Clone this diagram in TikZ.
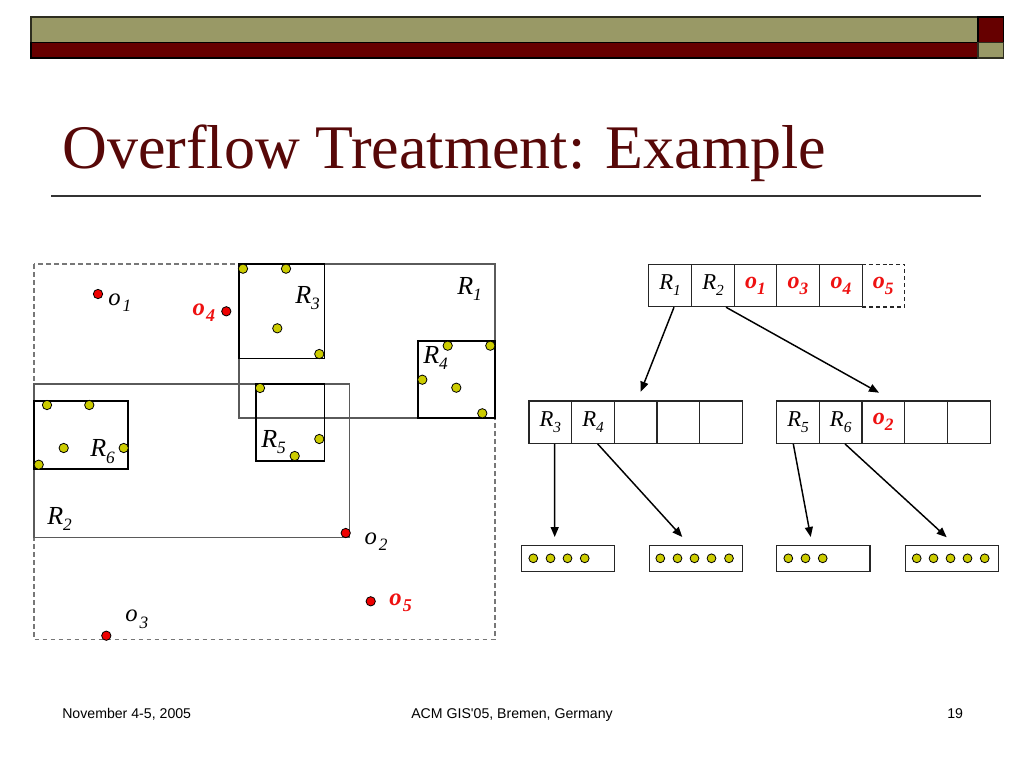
\documentclass[tikz,border=0pt]{standalone}
\usepackage{fontspec}
\setmainfont{Liberation Serif}
\newfontfamily\footfont{Liberation Sans}
\usetikzlibrary{arrows.meta,calc}
\definecolor{olivebar}{HTML}{999966}
\definecolor{darkred}{HTML}{660000}
\definecolor{titlered}{HTML}{570808}
\definecolor{ptyellow}{HTML}{CCCC00}
\definecolor{ptred}{HTML}{EE0000}
\definecolor{labred}{HTML}{EE1111}
\definecolor{mbrgray}{HTML}{5A5A5A}
\definecolor{outgray}{HTML}{777777}
% label macros
\newcommand{\Rl}[1]{\fontsize{19.5}{19.5}\selectfont\itshape R\raisebox{-5pt}{\fontsize{13}{13}\selectfont #1}}
\newcommand{\Ol}[1]{\fontsize{18.5}{18.5}\selectfont\itshape o\hspace{1.5pt}\raisebox{-5pt}{\fontsize{13}{13}\selectfont #1}}
\newcommand{\Olr}[1]{\fontsize{18.5}{18.5}\selectfont\bfseries\itshape o\hspace{1pt}\raisebox{-5pt}{\fontsize{13.5}{13.5}\selectfont #1}}
\newcommand{\Rc}[1]{\fontsize{17}{17}\selectfont\itshape R\raisebox{-4.5pt}{\fontsize{11.5}{11.5}\selectfont #1}}
\newcommand{\Oc}[1]{\fontsize{18}{18}\selectfont\bfseries\itshape o\raisebox{-4.5pt}{\fontsize{13}{13}\selectfont #1}}
\tikzset{
  ypt/.style={circle,fill=ptyellow,draw=black,line width=0.6pt,inner sep=0pt,minimum size=7pt},
  rpt/.style={circle,fill=ptred,draw=black,line width=0.6pt,inner sep=0pt,minimum size=7pt},
  lpt/.style={circle,fill=ptyellow,draw=black,line width=0.6pt,inner sep=0pt,minimum size=6.6pt},
  mbr/.style={draw=mbrgray,line width=1pt},
  leafrect/.style={draw=black,line width=1.2pt},
  cellbox/.style={draw=black!85,line width=0.8pt,minimum width=32pt,minimum height=31.8pt,inner sep=0pt,anchor=center},
  ghostcell/.style={minimum width=32pt,minimum height=31.8pt,inner sep=0pt,anchor=center},
  leafbox/.style={draw=black!85,line width=0.8pt,minimum width=70pt,minimum height=19.5pt,inner sep=0pt},
  arr/.style={-{Triangle[length=7.5pt,width=6pt]},line width=1.1pt},
  lab/.style={anchor=base west,inner sep=0pt},
  labr/.style={anchor=base west,inner sep=0pt,text=labred},
  foot/.style={font=\footfont\fontsize{10.6}{12}\selectfont,inner sep=0pt,anchor=base}
}
\begin{document}
\begin{tikzpicture}[x=0.75pt,y=-0.75pt]
\useasboundingbox (0,0) rectangle (1024,768);
% top bars
\filldraw[fill=olivebar,draw=black!70!olivebar,line width=0.8pt] (31,17) rectangle (978,42.5);
\filldraw[fill=darkred,draw=black,line width=0.8pt] (31,42.5) rectangle (978,58);
\filldraw[fill=darkred,draw=black,line width=0.8pt] (978,17) rectangle (1003.5,42.5);
\filldraw[fill=olivebar,draw=black!70!olivebar,line width=0.8pt] (978,42.5) rectangle (1003.5,58);
% title
\node[anchor=base west,inner sep=0pt,text=titlered,font=\fontsize{46.5}{46.5}\selectfont] (title) at (62,168) {Overflow Treatment: Example};
\draw[line width=1.1pt,black!80] (51,196) -- (981,196);
% footer
\node[foot,anchor=base west] (fdate) at (62,718.5) {November 4-5, 2005};
\node[foot] (fconf) at (512,718.5) {ACM GIS'05, Bremen, Germany};
\node[foot,anchor=base west] (fnum) at (947,718.5) {19};

% ---------- left: spatial layout ----------
\draw[outgray,line width=1.1pt,dash pattern=on 3.5pt off 2.5pt] (34,264) rectangle (495,639.5);
\draw[mbr] (239,264) rectangle (495,418);
\draw[mbr] (34,384) rectangle (349.3,537.3);
\draw[leafrect] (239,264) rectangle (324.3,358.3);
\draw[leafrect] (418,341) rectangle (495,417.7);
\draw[leafrect] (255.7,384) rectangle (324.3,460.7);
\draw[leafrect] (34,400.7) rectangle (127.7,469);
% points R3
\node[ypt] (p31) at (243,268.7) {};
\node[ypt] (p32) at (286,268.7) {};
\node[ypt] (p33) at (277.3,328.3) {};
\node[ypt] (p34) at (319.3,354) {};
% points R4
\node[ypt] (p41) at (447.7,345.7) {};
\node[ypt] (p42) at (490.3,345.7) {};
\node[ypt] (p43) at (422.3,379.7) {};
\node[ypt] (p44) at (456.3,387.7) {};
\node[ypt] (p45) at (482.3,413.3) {};
% points R5
\node[ypt] (p51) at (260,388) {};
\node[ypt] (p52) at (319.3,439) {};
\node[ypt] (p53) at (294.7,456) {};
% points R6
\node[ypt] (p61) at (47,405) {};
\node[ypt] (p62) at (89.3,405) {};
\node[ypt] (p63) at (63.7,448) {};
\node[ypt] (p64) at (123.7,448) {};
\node[ypt] (p65) at (38.7,464.7) {};
% red objects
\node[rpt] (po1) at (98,294) {};
\node[rpt] (po4) at (226.3,311.3) {};
\node[rpt] (po2) at (345.7,533) {};
\node[rpt] (po5) at (370.7,601.3) {};
\node[rpt] (po3) at (106.3,635.7) {};
% labels
\node[lab] (lR1) at (457,294.3) {\Rl{1}};
\node[lab] (lR3) at (295,303) {\Rl{3}};
\node[lab] (lR4) at (423,363) {\Rl{4}};
\node[lab] (lR5) at (261,447) {\Rl{5}};
\node[lab] (lR6) at (90,456.7) {\Rl{6}};
\node[lab] (lR2) at (47,524.3) {\Rl{2}};
\node[lab] (lo1) at (108,305) {\Ol{1}};
\node[labr] (lo4) at (192.3,315) {\Olr{4}};
\node[lab] (lo2) at (364.3,544) {\Ol{2}};
\node[labr] (lo5) at (389,605) {\Olr{5}};
\node[lab] (lo3) at (125,621.7) {\Ol{3}};

% ---------- right: tree ----------
% root
\node[cellbox] (c1) at (670,285.5) {\Rc{1}};
\node[cellbox] (c2) at (713,285.5) {\Rc{2}};
\node[cellbox,text=labred] (c3) at (755.5,285.5) {\Oc{1}};
\node[cellbox,text=labred] (c4) at (798,285.5) {\Oc{3}};
\node[cellbox,text=labred] (c5) at (841,285.5) {\Oc{4}};
\node[ghostcell,text=labred] (c6) at (883.3,285.5) {\Oc{5}};
\draw[black!85,line width=0.8pt,dash pattern=on 3pt off 2.2pt] (c6.north west) -- (c6.north east) -- (c6.south east) -- (c6.south west);
% level 2 left
\node[cellbox] (d1) at (550.3,422.2) {\Rc{3}};
\node[cellbox] (d2) at (593,422.2) {\Rc{4}};
\node[cellbox] (d3) at (635.7,422.2) {};
\node[cellbox] (d4) at (678.3,422.2) {};
\node[cellbox] (d5) at (721,422.2) {};
% level 2 right
\node[cellbox] (f1) at (798,422.2) {\Rc{5}};
\node[cellbox] (f2) at (840.7,422.2) {\Rc{6}};
\node[cellbox,text=labred] (f3) at (883.3,422.2) {\Oc{2}};
\node[cellbox] (f4) at (926,422.2) {};
\node[cellbox] (f5) at (968.7,422.2) {};
% leaves
\node[leafbox] (g1) at (567.7,558.7) {};
\node[leafbox] (g2) at (695.7,558.7) {};
\node[leafbox] (g3) at (823.3,558.7) {};
\node[leafbox] (g4) at (951.7,558.7) {};
\foreach \x [count=\i] in {533.3,550.5,567.5,584.7} \node[lpt] (ga\i) at (\x,558.3) {};
\foreach \x [count=\i] in {660.3,677.5,694.5,711.5,729} \node[lpt] (gb\i) at (\x,558.3) {};
\foreach \x [count=\i] in {788.3,805.5,822.7} \node[lpt] (gc\i) at (\x,558.3) {};
\foreach \x [count=\i] in {916.7,933.5,950.5,967.5,984.7} \node[lpt] (gd\i) at (\x,558.3) {};
% arrow targets
\coordinate (e1) at (640.7,391.7);
\coordinate (e2) at (879,392.7);
\coordinate (e3) at (554.7,537);
\coordinate (e4) at (682.3,537);
\coordinate (e5) at (810.7,537);
\coordinate (e6) at (946.7,537.3);
\draw[arr] ($(c1.south)+(4,0)$) -- (e1);
\draw[arr] ($(c2.south)+(13,0)$) -- (e2);
\draw[arr] ($(d1.south)+(4.4,0)$) -- (e3);
\draw[arr] ($(d2.south)+(4.7,0)$) -- (e4);
\draw[arr] ($(f1.south)+(-4.7,0)$) -- (e5);
\draw[arr] ($(f2.south)+(4.3,0)$) -- (e6);
\end{tikzpicture}
\end{document}
